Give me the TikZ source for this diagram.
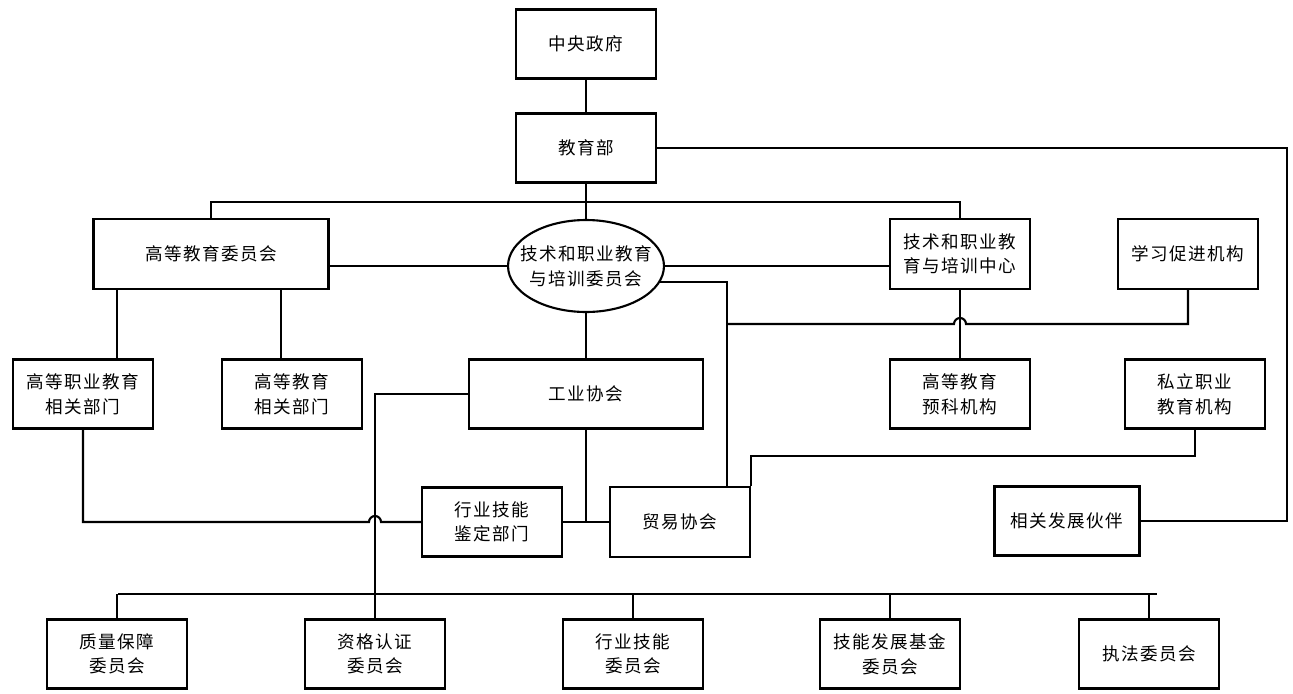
\documentclass[tikz,border=0pt]{standalone}
\usepackage{fontspec}
\newfontfamily\cjk[LetterSpace=8]{Noto Sans CJK SC}
\usetikzlibrary{shapes.geometric}
\begin{document}
\begin{tikzpicture}[x=0.02cm,y=-0.02cm,line width=1.2pt,
    box/.style={draw,rectangle,inner sep=0pt,minimum width=2.8cm,minimum height=1.38cm,
      align=center,font=\cjk\fontsize{10pt}{14pt}\selectfont},
    wide/.style={box,minimum width=4.7cm,minimum height=1.4cm}]
  \useasboundingbox (0,0) rectangle (1293,693);
  % top levels
  \node[box] (gov) at (586,44) {中央政府};
  \node[box] (moe) at (586,148) {教育部};
  \node[wide] (hec) at (211,254) {高等教育委员会};
  \node[draw,ellipse,inner sep=0pt,minimum width=3.12cm,minimum height=1.84cm] (tvc) at (586,266) {};
  \node[box,draw=none] (tvctext) at (tvc) {技术和职业教育\\与培训委员会};
  \node[box,minimum height=1.4cm] (tvcentre) at (960,254) {技术和职业教\\育与培训中心};
  \node[box,minimum height=1.4cm] (learn) at (1188,254) {学习促进机构};
  % middle
  \node[box] (hvedep) at (83,394) {高等职业教育\\相关部门};
  \node[box] (hedep) at (292,394) {高等教育\\相关部门};
  \node[wide,minimum width=4.68cm,minimum height=1.38cm] (industry) at (586,394) {工业协会};
  \node[box] (prep) at (960,394) {高等教育\\预科机构};
  \node[box] (private) at (1195,394) {私立职业\\教育机构};
  \node[box] (skillsdep) at (492,522) {行业技能\\鉴定部门};
  \node[box,minimum height=1.4cm] (trade) at (680,522) {贸易协会};
  \node[box,minimum width=2.9cm] (partner) at (1067,521) {相关发展伙伴};
  % bottom
  \node[box] (qa) at (117,654) {质量保障\\委员会};
  \node[box] (qual) at (375,654) {资格认证\\委员会};
  \node[box] (isc) at (633,654) {行业技能\\委员会};
  \node[box] (sdf) at (890,654) {技能发展基金\\委员会};
  \node[box] (enf) at (1149,654) {执法委员会};
  \coordinate (rt) at (1287,330);
  \coordinate (tj) at (727,324);
  \coordinate (busl) at (118,594);
  \coordinate (busr) at (1157,594);

  \draw (gov) -- (moe);
  \draw (moe) -- (tvc);
  \draw (hec.north) -- ++(0,-16) -| (tvcentre.north);
  \draw (tvc.west) -- (tvc.west -| hec.east);
  \draw (tvc.east) -- (tvc.east -| tvcentre.west);
  \draw (moe.east) -| (rt) |- (partner.east);
  \draw (tvc.-12) -| ([xshift=0.94cm]trade.north);
  \draw (tj) -- ([xshift=-0.12cm]tvcentre.south |- tj) arc (180:0:0.12cm)
    -- (learn.south |- tj) -- (learn.south);
  \draw (tvcentre) -- (prep);
  \draw (private.south) -- ++(0,26) -| (trade.north east);
  \draw ([xshift=0.68cm]hvedep.north) -- ([xshift=0.68cm]hvedep.north |- hec.south);
  \draw ([xshift=-0.22cm]hedep.north) -- ([xshift=-0.22cm]hedep.north |- hec.south);
  \draw (hvedep.south) |- ([xshift=-0.12cm]qual.north |- skillsdep.west) arc (180:0:0.12cm)
    -- (skillsdep.west);
  \draw (industry.west) -| (qual.north);
  \draw (tvc) -- (industry);
  \draw (industry.south) -- (industry.south |- skillsdep.east);
  \draw (skillsdep) -- (trade);
  \draw (busl) -- (busr);
  \draw (qa) -- (qa.north |- busl);
  \draw (isc) -- (isc.north |- busl);
  \draw (sdf) -- (sdf.north |- busl);
  \draw (enf) -- (enf.north |- busl);
\end{tikzpicture}
\end{document}
